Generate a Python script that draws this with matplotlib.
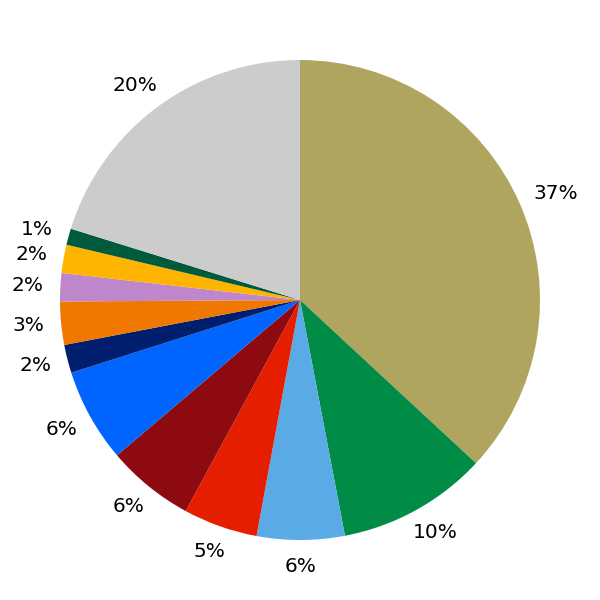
import numpy as np
import matplotlib.pyplot as plt

# Valores de cada porción (en orden horario desde las 12)
valores = [36.9, 10.1, 5.9, 5.0, 5.9, 6.3, 1.9, 2.9, 1.9, 1.9, 1.1, 20.2]
colores = ['#B0A55E', '#008C46', '#5AAAE6', '#E61E00', '#8C0A10', '#0064FF',
           '#001E6E', '#F07800', '#BE87CC', '#FFB400', '#005A3C', '#CCCCCC']

fig = plt.figure(figsize=(6, 6), dpi=100)
ax = fig.add_axes([0, 0, 1, 1])

wedges, textos, autotextos = ax.pie(
    valores, colors=colores, startangle=90, counterclock=False,
    autopct='%.0f%%', pctdistance=1.07, radius=1,
    wedgeprops={'linewidth': 0},
    textprops={'fontsize': 14.5, 'color': 'black'})

ax.set_xlim(-1.25, 1.25)
ax.set_ylim(-1.25, 1.25)
ax.set_aspect('equal')
ax.axis('off')

# Empujar cada etiqueta hacia afuera según el tamaño de su texto
fig.canvas.draw()
rend = fig.canvas.get_renderer()
for w, t in zip(wedges, autotextos):
    ang = np.deg2rad((w.theta1 + w.theta2) / 2)
    ux, uy = np.cos(ang), np.sin(ang)
    bb = t.get_window_extent(rend).transformed(ax.transData.inverted())
    x, y = t.get_position()
    t.set_position((x + bb.width / 2 * ux, y + bb.height / 2 * uy))

plt.savefig('out.png', dpi=100)
